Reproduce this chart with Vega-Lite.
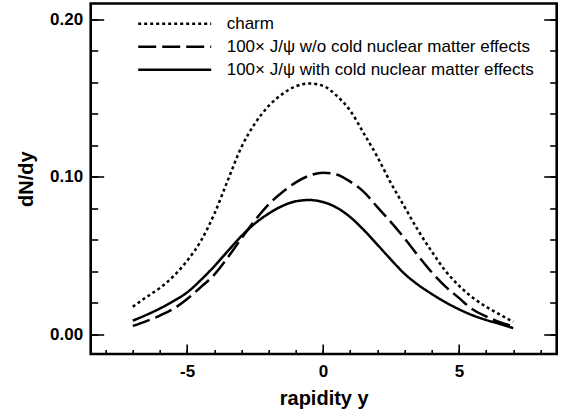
{
  "$schema": "https://vega.github.io/schema/vega-lite/v6.json",
  "width": 466,
  "height": 350.5,
  "autosize": {"type": "none"},
  "padding": {"left": 90.7, "top": 3.5, "right": 11.3, "bottom": 64},
  "background": "white",
  "config": {
    "view": {"stroke": "black", "strokeWidth": 2.6},
    "axis": {"domain": false, "grid": false, "tickColor": "black", "tickWidth": 1.6, "labelColor": "black", "titleColor": "black", "labelFont": "Liberation Sans", "titleFont": "Liberation Sans", "labelFontWeight": "bold", "titleFontWeight": "bold", "labelOverlap": false}
  },
  "datasets": {
    "curves": [
      {"r": -7, "v": 0.0176, "s": "charm"},
      {"r": -6.5, "v": 0.0237, "s": "charm"},
      {"r": -6, "v": 0.0296, "s": "charm"},
      {"r": -5.5, "v": 0.0370, "s": "charm"},
      {"r": -5, "v": 0.0468, "s": "charm"},
      {"r": -4.5, "v": 0.0592, "s": "charm"},
      {"r": -4, "v": 0.0765, "s": "charm"},
      {"r": -3.5, "v": 0.0980, "s": "charm"},
      {"r": -3, "v": 0.1190, "s": "charm"},
      {"r": -2.5, "v": 0.1340, "s": "charm"},
      {"r": -2, "v": 0.1450, "s": "charm"},
      {"r": -1.5, "v": 0.1525, "s": "charm"},
      {"r": -1, "v": 0.1575, "s": "charm"},
      {"r": -0.5, "v": 0.1593, "s": "charm"},
      {"r": 0, "v": 0.1578, "s": "charm"},
      {"r": 0.5, "v": 0.1515, "s": "charm"},
      {"r": 1, "v": 0.1420, "s": "charm"},
      {"r": 1.5, "v": 0.1276, "s": "charm"},
      {"r": 2, "v": 0.1127, "s": "charm"},
      {"r": 2.5, "v": 0.0960, "s": "charm"},
      {"r": 3, "v": 0.0810, "s": "charm"},
      {"r": 3.5, "v": 0.0660, "s": "charm"},
      {"r": 4, "v": 0.0527, "s": "charm"},
      {"r": 4.5, "v": 0.0405, "s": "charm"},
      {"r": 5, "v": 0.0310, "s": "charm"},
      {"r": 5.5, "v": 0.0235, "s": "charm"},
      {"r": 6, "v": 0.0176, "s": "charm"},
      {"r": 6.5, "v": 0.0127, "s": "charm"},
      {"r": 7, "v": 0.0080, "s": "charm"},
      {"r": -7, "v": 0.0054, "s": "100× J/ψ w/o cold nuclear matter effects"},
      {"r": -6.5, "v": 0.0085, "s": "100× J/ψ w/o cold nuclear matter effects"},
      {"r": -6, "v": 0.0120, "s": "100× J/ψ w/o cold nuclear matter effects"},
      {"r": -5.5, "v": 0.0163, "s": "100× J/ψ w/o cold nuclear matter effects"},
      {"r": -5, "v": 0.0225, "s": "100× J/ψ w/o cold nuclear matter effects"},
      {"r": -4.5, "v": 0.0300, "s": "100× J/ψ w/o cold nuclear matter effects"},
      {"r": -4, "v": 0.0380, "s": "100× J/ψ w/o cold nuclear matter effects"},
      {"r": -3.5, "v": 0.0490, "s": "100× J/ψ w/o cold nuclear matter effects"},
      {"r": -3, "v": 0.0610, "s": "100× J/ψ w/o cold nuclear matter effects"},
      {"r": -2.5, "v": 0.0725, "s": "100× J/ψ w/o cold nuclear matter effects"},
      {"r": -2, "v": 0.0825, "s": "100× J/ψ w/o cold nuclear matter effects"},
      {"r": -1.5, "v": 0.0902, "s": "100× J/ψ w/o cold nuclear matter effects"},
      {"r": -1, "v": 0.0965, "s": "100× J/ψ w/o cold nuclear matter effects"},
      {"r": -0.5, "v": 0.1008, "s": "100× J/ψ w/o cold nuclear matter effects"},
      {"r": 0, "v": 0.1026, "s": "100× J/ψ w/o cold nuclear matter effects"},
      {"r": 0.5, "v": 0.1015, "s": "100× J/ψ w/o cold nuclear matter effects"},
      {"r": 1, "v": 0.0970, "s": "100× J/ψ w/o cold nuclear matter effects"},
      {"r": 1.5, "v": 0.0905, "s": "100× J/ψ w/o cold nuclear matter effects"},
      {"r": 2, "v": 0.0808, "s": "100× J/ψ w/o cold nuclear matter effects"},
      {"r": 2.5, "v": 0.0713, "s": "100× J/ψ w/o cold nuclear matter effects"},
      {"r": 3, "v": 0.0610, "s": "100× J/ψ w/o cold nuclear matter effects"},
      {"r": 3.5, "v": 0.0500, "s": "100× J/ψ w/o cold nuclear matter effects"},
      {"r": 4, "v": 0.0395, "s": "100× J/ψ w/o cold nuclear matter effects"},
      {"r": 4.5, "v": 0.0305, "s": "100× J/ψ w/o cold nuclear matter effects"},
      {"r": 5, "v": 0.0232, "s": "100× J/ψ w/o cold nuclear matter effects"},
      {"r": 5.5, "v": 0.0160, "s": "100× J/ψ w/o cold nuclear matter effects"},
      {"r": 6, "v": 0.0115, "s": "100× J/ψ w/o cold nuclear matter effects"},
      {"r": 6.5, "v": 0.0078, "s": "100× J/ψ w/o cold nuclear matter effects"},
      {"r": 7, "v": 0.0052, "s": "100× J/ψ w/o cold nuclear matter effects"},
      {"r": -7, "v": 0.0088, "s": "100× J/ψ with cold nuclear matter effects"},
      {"r": -6.5, "v": 0.0124, "s": "100× J/ψ with cold nuclear matter effects"},
      {"r": -6, "v": 0.0165, "s": "100× J/ψ with cold nuclear matter effects"},
      {"r": -5.5, "v": 0.0212, "s": "100× J/ψ with cold nuclear matter effects"},
      {"r": -5, "v": 0.0267, "s": "100× J/ψ with cold nuclear matter effects"},
      {"r": -4.5, "v": 0.0345, "s": "100× J/ψ with cold nuclear matter effects"},
      {"r": -4, "v": 0.0433, "s": "100× J/ψ with cold nuclear matter effects"},
      {"r": -3.5, "v": 0.0530, "s": "100× J/ψ with cold nuclear matter effects"},
      {"r": -3, "v": 0.0625, "s": "100× J/ψ with cold nuclear matter effects"},
      {"r": -2.5, "v": 0.0705, "s": "100× J/ψ with cold nuclear matter effects"},
      {"r": -2, "v": 0.0767, "s": "100× J/ψ with cold nuclear matter effects"},
      {"r": -1.5, "v": 0.0815, "s": "100× J/ψ with cold nuclear matter effects"},
      {"r": -1, "v": 0.0845, "s": "100× J/ψ with cold nuclear matter effects"},
      {"r": -0.5, "v": 0.0853, "s": "100× J/ψ with cold nuclear matter effects"},
      {"r": 0, "v": 0.0840, "s": "100× J/ψ with cold nuclear matter effects"},
      {"r": 0.5, "v": 0.0805, "s": "100× J/ψ with cold nuclear matter effects"},
      {"r": 1, "v": 0.0745, "s": "100× J/ψ with cold nuclear matter effects"},
      {"r": 1.5, "v": 0.0663, "s": "100× J/ψ with cold nuclear matter effects"},
      {"r": 2, "v": 0.0570, "s": "100× J/ψ with cold nuclear matter effects"},
      {"r": 2.5, "v": 0.0475, "s": "100× J/ψ with cold nuclear matter effects"},
      {"r": 3, "v": 0.0385, "s": "100× J/ψ with cold nuclear matter effects"},
      {"r": 3.5, "v": 0.0315, "s": "100× J/ψ with cold nuclear matter effects"},
      {"r": 4, "v": 0.0257, "s": "100× J/ψ with cold nuclear matter effects"},
      {"r": 4.5, "v": 0.0205, "s": "100× J/ψ with cold nuclear matter effects"},
      {"r": 5, "v": 0.0160, "s": "100× J/ψ with cold nuclear matter effects"},
      {"r": 5.5, "v": 0.0122, "s": "100× J/ψ with cold nuclear matter effects"},
      {"r": 6, "v": 0.0092, "s": "100× J/ψ with cold nuclear matter effects"},
      {"r": 6.5, "v": 0.0067, "s": "100× J/ψ with cold nuclear matter effects"},
      {"r": 7, "v": 0.0040, "s": "100× J/ψ with cold nuclear matter effects"}
    ]
  },
  "data": {"name": "curves"},
  "layer": [
    {
      "mark": {"type": "line", "interpolate": "monotone", "strokeWidth": 2.5, "color": "black"},
      "encoding": {
        "x": {
          "field": "r", "type": "quantitative",
          "scale": {"domain": [-8.55, 8.6], "nice": false, "zero": false},
          "axis": {
            "orient": "bottom",
            "values": [-8, -7, -6, -5, -4, -3, -2, -1, 0, 1, 2, 3, 4, 5, 6, 7, 8],
            "labelExpr": "datum.value % 5 === 0 ? '' + datum.value : ''",
            "tickSize": -4.5,
            "labelFontSize": 17, "labelPadding": 13.5,
            "title": "rapidity y", "titleFontSize": 20, "titlePadding": 9
          }
        },
        "y": {
          "field": "v", "type": "quantitative",
          "scale": {"domain": [-0.0124, 0.21], "nice": false, "zero": false},
          "axis": {
            "orient": "left",
            "values": [0, 0.02, 0.04, 0.06, 0.08, 0.1, 0.12, 0.14, 0.16, 0.18, 0.2],
            "labelExpr": "abs(datum.value * 10 - round(datum.value * 10)) < 0.001 ? format(datum.value, '.2f') : ''",
            "tickSize": -7,
            "labelFontSize": 17, "labelPadding": 15,
            "title": "dN/dy", "titleFontSize": 20, "titlePadding": 13
          }
        },
        "strokeDash": {
          "field": "s", "type": "nominal",
          "scale": {
            "domain": ["charm", "100× J/ψ w/o cold nuclear matter effects", "100× J/ψ with cold nuclear matter effects"],
            "range": [[3, 3], [18, 6], [1, 0]]
          },
          "legend": {
            "orient": "none", "legendX": 46, "legendY": 9, "title": null,
            "symbolType": "stroke", "symbolSize": 5329, "symbolStrokeWidth": 2.5, "symbolStrokeColor": "black",
            "clipHeight": 22.5, "rowPadding": 0, "padding": 0,
            "labelFont": "Liberation Sans", "labelFontSize": 17, "labelColor": "black", "labelOffset": 14, "labelLimit": 500
          }
        }
      }
    },
    {
      "mark": {"type": "line", "opacity": 0},
      "encoding": {
        "x": {
          "field": "r", "type": "quantitative",
          "axis": {"orient": "bottom", "values": [-5, 0, 5], "tickSize": -10, "labels": false, "title": null}
        },
        "y": {
          "field": "v", "type": "quantitative",
          "axis": {
            "orient": "right",
            "values": [0, 0.02, 0.04, 0.06, 0.08, 0.1, 0.12, 0.14, 0.16, 0.18, 0.2],
            "labels": false, "title": null, "tickSize": -7
          }
        },
        "detail": {"field": "s", "type": "nominal"}
      }
    },
    {
      "mark": {"type": "line", "opacity": 0},
      "encoding": {
        "x": {"field": "r", "type": "quantitative", "axis": null},
        "y": {
          "field": "v", "type": "quantitative",
          "axis": {"orient": "left", "values": [0, 0.1, 0.2], "labels": false, "title": null, "tickSize": -13}
        },
        "detail": {"field": "s", "type": "nominal"}
      }
    },
    {
      "mark": {"type": "line", "opacity": 0},
      "encoding": {
        "x": {"field": "r", "type": "quantitative", "axis": null},
        "y": {
          "field": "v", "type": "quantitative",
          "axis": {"orient": "right", "values": [0, 0.1, 0.2], "labels": false, "title": null, "tickSize": -13}
        },
        "detail": {"field": "s", "type": "nominal"}
      }
    }
  ],
  "resolve": {"axis": {"x": "independent", "y": "independent"}}
}
